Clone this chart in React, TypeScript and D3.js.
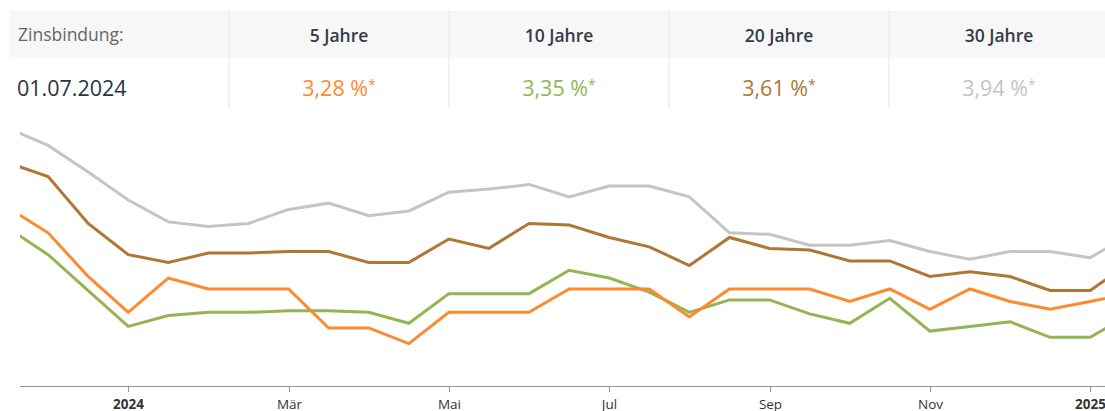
import React from "react";
import * as d3 from "d3";

const dates = [
  "15.11.2023", "01.12.2023", "15.12.2023", "01.01.2024", "15.01.2024", "01.02.2024", "15.02.2024",
  "01.03.2024", "15.03.2024", "01.04.2024", "15.04.2024", "01.05.2024", "15.05.2024", "01.06.2024",
  "15.06.2024", "01.07.2024", "15.07.2024", "01.08.2024", "15.08.2024", "01.09.2024", "15.09.2024",
  "01.10.2024", "15.10.2024", "01.11.2024", "15.11.2024", "01.12.2024", "15.12.2024", "01.01.2025",
  "15.01.2025",
];

const rate5 = [3.80, 3.64, 3.36, 3.13, 3.35, 3.28, 3.28, 3.28, 3.03, 3.03, 2.93, 3.13, 3.13, 3.13, 3.28, 3.28, 3.28, 3.10, 3.28, 3.28, 3.28, 3.20, 3.28, 3.15, 3.28, 3.20, 3.15, 3.20, 3.25];
const rate10 = [3.67, 3.50, 3.27, 3.04, 3.11, 3.13, 3.13, 3.14, 3.14, 3.13, 3.06, 3.25, 3.25, 3.25, 3.40, 3.35, 3.26, 3.13, 3.21, 3.21, 3.12, 3.06, 3.22, 3.01, 3.04, 3.07, 2.97, 2.97, 3.12];
const rate20 = [4.09, 4.00, 3.70, 3.50, 3.45, 3.51, 3.51, 3.52, 3.52, 3.45, 3.45, 3.60, 3.54, 3.70, 3.69, 3.61, 3.55, 3.43, 3.61, 3.54, 3.53, 3.46, 3.46, 3.36, 3.39, 3.36, 3.27, 3.27, 3.45];
const rate30 = [4.31, 4.20, 4.03, 3.85, 3.71, 3.68, 3.70, 3.79, 3.83, 3.75, 3.78, 3.90, 3.92, 3.95, 3.87, 3.94, 3.94, 3.87, 3.64, 3.63, 3.56, 3.56, 3.59, 3.52, 3.47, 3.52, 3.52, 3.48, 3.63];

const tickDates = ["01.01.2024", "01.03.2024", "01.05.2024", "01.07.2024", "01.09.2024", "01.11.2024", "01.01.2025"];
const tickLabels = ["2024", "Mär", "Mai", "Jul", "Sep", "Nov", "2025"];
const tickBold = [true, false, false, false, false, false, true];

const headerTitle = "Zinsbindung:";
const headerDate = "01.07.2024";
const columnLabels = ["5 Jahre", "10 Jahre", "20 Jahre", "30 Jahre"];
const columnValues = ["3,28 %", "3,35 %", "3,61 %", "3,94 %"];

const colors = ["#fd8a2e", "#93b552", "#b07633", "#c4c4c4"];
const seriesList = [
  { name: "30 Jahre", values: rate30, color: colors[3] },
  { name: "20 Jahre", values: rate20, color: colors[2] },
  { name: "10 Jahre", values: rate10, color: colors[1] },
  { name: "5 Jahre", values: rate5, color: colors[0] },
];

const W = 1105;
const H = 411;
const FONT = "'Open Sans', 'Noto Sans', sans-serif";

export default function App() {
  const x = d3.scalePoint<string>().domain(dates).range([8, 1130.3]);
  const y = d3.scaleLinear().domain([2.658, 4.363]).range([386, 120]);
  const line = d3
    .line<number>()
    .x((_, i) => x(dates[i]) as number)
    .y((d) => y(d));

  const colX = [229, 449, 669, 889, 1109];

  return (
    <svg
      width={W}
      height={H}
      style={{ position: "absolute", left: 0, top: 0, background: "#fff" }}
      fontFamily={FONT}
    >
      <defs>
        <clipPath id="plotClip">
          <rect x={20} y={100} width={W - 20} height={290} />
        </clipPath>
      </defs>

      {/* header table */}
      <rect x={10} y={11} width={W - 10} height={46} fill="#f7f7f7" />
      {colX.slice(0, 4).map((cx, i) => (
        <line key={i} x1={cx} x2={cx} y1={11} y2={108} stroke="#e6e6e6" strokeWidth={1} />
      ))}
      <text x={18} y={41} fontSize={17.5} fill="#666">
        {headerTitle}
      </text>
      <text x={17} y={96} fontSize={21.5} fill="#2b3440">
        {headerDate}
      </text>
      {columnLabels.map((lab, i) => (
        <text
          key={lab}
          x={(colX[i] + colX[i + 1]) / 2}
          y={42}
          fontSize={17.5}
          fontWeight={600}
          fill="#333b47"
          textAnchor="middle"
        >
          {lab}
        </text>
      ))}
      {columnValues.map((v, i) => (
        <text
          key={v}
          x={(colX[i] + colX[i + 1]) / 2}
          y={96}
          fontSize={21.5}
          fill={colors[i]}
          textAnchor="middle"
        >
          {v}
          <tspan fontSize={14} dy={-6}>*</tspan>
        </text>
      ))}

      {/* lines */}
      <g clipPath="url(#plotClip)">
        {seriesList.map((s) => (
          <path key={s.name} d={line(s.values) || ""} fill="none" stroke={s.color} strokeWidth={3} />
        ))}
      </g>

      {/* x axis */}
      <line x1={20} x2={W} y1={386.5} y2={386.5} stroke="#8c96a6" strokeWidth={1} />
      {tickDates.map((d, i) => {
        const tx = Math.round(x(d) as number) + 0.5;
        return (
          <g key={d}>
            <line x1={tx} x2={tx} y1={386} y2={392} stroke="#8c96a6" strokeWidth={1} />
            <text
              x={tx}
              y={409}
              fontSize={13.5}
              fontWeight={tickBold[i] ? 700 : 400}
              fill="#333"
              textAnchor="middle"
            >
              {tickLabels[i]}
            </text>
          </g>
        );
      })}
    </svg>
  );
}
